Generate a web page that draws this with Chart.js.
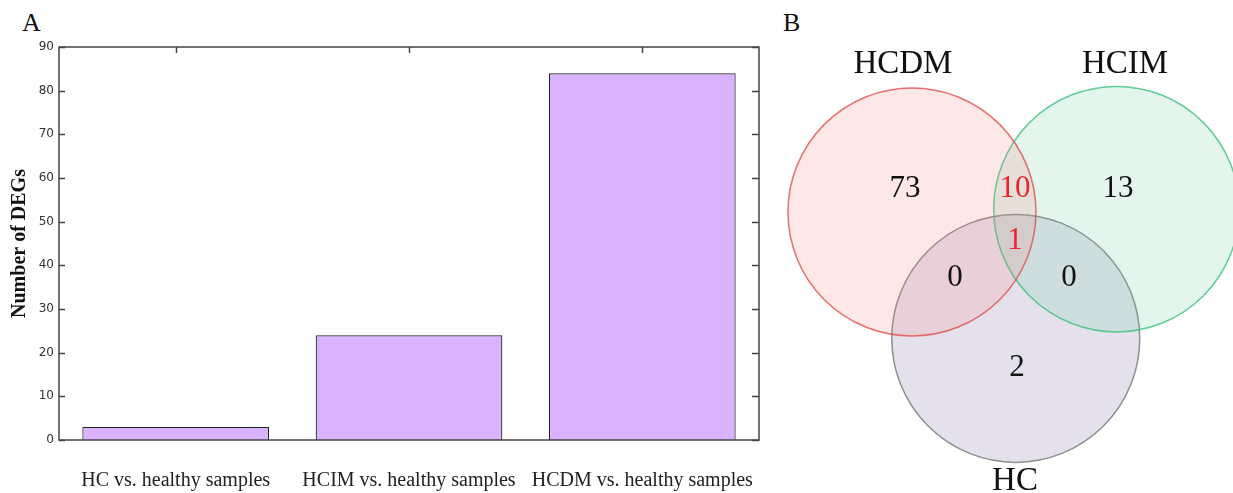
<!DOCTYPE html>
<html>
<head>
<meta charset="utf-8">
<script src="https://cdn.jsdelivr.net/npm/chart.js@4.4.1/dist/chart.umd.min.js"></script>
<style>
  body { margin: 0; background: #fff; width: 1233px; height: 493px; position: relative; overflow: hidden; }
  .panel-letter { position: absolute; top: 10px; font: 26px/26px "Liberation Serif", serif; color: #111; }
  #barCanvas { position: absolute; left: 0; top: 0; }
  #vennCanvas { position: absolute; left: 770px; top: 0; }
</style>
</head>
<body>
<div class="panel-letter" style="left:22px">A</div>
<div class="panel-letter" style="left:783px">B</div>
<canvas id="barCanvas" width="770" height="493"></canvas>
<canvas id="vennCanvas" width="463" height="493"></canvas>
<script>
// --- panel A data ---
const categories = ['HC vs. healthy samples', 'HCIM vs. healthy samples', 'HCDM vs. healthy samples'];
const degCounts = [3, 24, 84];

// --- panel B data (circle radius = 1 unit) ---
const vennSets = ['HCDM', 'HCIM', 'HC'];
const vennCenterX = [0, 1.649, 0.837];
const vennCenterY = [0, 0.023, -1.019];
const vennRadius = [1, 0.99, 1];
const setLabelX = [-0.073, 1.718, 0.831];
const setLabelY = [1.194, 1.194, -2.169];
const regionCounts = [73, 10, 13, 1, 0, 0, 2];
const regionX = [-0.056, 0.831, 1.661, 0.831, 0.347, 1.266, 0.847];
const regionY = [0.19, 0.19, 0.19, -0.234, -0.528, -0.528, -1.254];
const regionColors = ['#111', '#e8262b', '#111', '#e8262b', '#111', '#111', '#111'];

// 테두리 + 안쪽 눈금
const frameTicks = {
    id: 'frameTicks',
    afterDatasetsDraw(chart) {
        const { ctx, chartArea: a, scales: { x, y } } = chart;
        ctx.save();
        ctx.strokeStyle = '#444';
        ctx.lineWidth = 1.5;
        ctx.strokeRect(a.left, a.top, a.right - a.left, a.bottom - a.top);
        ctx.beginPath();
        y.ticks.forEach(t => {
            const py = Math.round(y.getPixelForValue(t.value)) + 0.5;
            ctx.moveTo(a.left, py); ctx.lineTo(a.left + 6, py);
            ctx.moveTo(a.right, py); ctx.lineTo(a.right - 7, py);
        });
        x.ticks.forEach((t, i) => {
            const px = Math.round(x.getPixelForValue(i)) + 0.5;
            ctx.moveTo(px, a.top); ctx.lineTo(px, a.top + 6);
        });
        ctx.stroke();
        ctx.restore();
    }
};

new Chart(document.getElementById('barCanvas'), {
    type: 'bar',
    data: {
        labels: categories,
        datasets: [{
            data: degCounts,
            backgroundColor: '#dab3ff',
            borderColor: '#222',
            borderWidth: 1.2,
            barPercentage: 0.8,
            categoryPercentage: 1
        }]
    },
    options: {
        responsive: false,
        animation: false,
        layout: { autoPadding: false, padding: { top: 47, right: 11, left: 0, bottom: 0 } },
        plugins: { legend: { display: false }, tooltip: { enabled: false } },
        scales: {
            x: {
                grid: { display: false, drawTicks: false },
                border: { display: false },
                ticks: { font: { family: 'Liberation Serif', size: 20 }, color: '#222', padding: 29, maxRotation: 0 },
                afterFit: s => { s.height = 53; s.paddingLeft = 0; s.paddingRight = 0; }
            },
            y: {
                min: 0, max: 90,
                grid: { display: false, drawTicks: false },
                border: { display: false },
                ticks: { stepSize: 10, font: { family: 'DejaVu Sans', size: 12 }, color: '#333', padding: 5 },
                title: {
                    display: true, text: 'Number of DEGs', color: '#111',
                    font: { family: 'Liberation Serif', size: 20, weight: 'bold' },
                    padding: { top: 8, bottom: 0 }
                },
                afterFit: s => { s.width = 59; s.paddingTop = 0; s.paddingBottom = 0; }
            }
        }
    },
    plugins: [frameTicks]
});

// 벤 다이어그램 글자
const vennText = {
    id: 'vennText',
    afterDatasetsDraw(chart) {
        const { ctx, scales: { x, y } } = chart;
        ctx.save();
        ctx.textAlign = 'center';
        ctx.textBaseline = 'middle';
        ctx.font = '33px "Liberation Serif"';
        ctx.fillStyle = '#111';
        vennSets.forEach((name, i) => {
            ctx.fillText(name, x.getPixelForValue(setLabelX[i]), y.getPixelForValue(setLabelY[i]));
        });
        ctx.font = '31px "Liberation Serif"';
        regionCounts.forEach((n, i) => {
            ctx.fillStyle = regionColors[i];
            ctx.fillText(String(n), x.getPixelForValue(regionX[i]), y.getPixelForValue(regionY[i]));
        });
        ctx.restore();
    }
};

const vennFill = ['rgba(245,120,120,0.18)', 'rgba(100,200,150,0.18)', 'rgba(110,90,150,0.18)'];
const vennStroke = ['rgba(220,70,70,0.75)', 'rgba(50,190,120,0.75)', 'rgba(110,110,110,0.75)'];

new Chart(document.getElementById('vennCanvas'), {
    type: 'scatter',
    data: {
        datasets: vennSets.map((name, i) => ({
            label: name,
            data: [{ x: vennCenterX[i], y: vennCenterY[i] }],
            pointBackgroundColor: vennFill[i],
            pointBorderColor: vennStroke[i],
            pointBorderWidth: 1.5,
            pointRadius: ctx => {
                const s = ctx.chart.scales.x;
                return s.getPixelForValue(vennRadius[i]) - s.getPixelForValue(0);
            },
            pointHoverRadius: ctx => {
                const s = ctx.chart.scales.x;
                return s.getPixelForValue(vennRadius[i]) - s.getPixelForValue(0);
            },
            clip: false
        }))
    },
    options: {
        responsive: false,
        animation: false,
        events: [],
        layout: { autoPadding: false, padding: 0 },
        plugins: { legend: { display: false }, tooltip: { enabled: false } },
        scales: {
            x: { type: 'linear', display: false, min: -1.145, max: 2.589 },
            y: { type: 'linear', display: false, min: -2.266, max: 1.71 }
        }
    },
    plugins: [vennText]
});
</script>
</body>
</html>
